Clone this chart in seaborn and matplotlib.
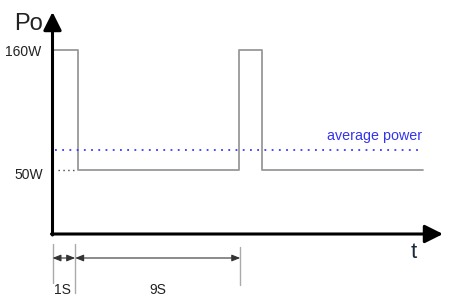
import matplotlib
matplotlib.use("Agg")
import matplotlib.pyplot as plt
import seaborn as sns
import pandas as pd

# ---- data (schematic values) ----
edge_times = [0, 1, 7.4, 8.3, 14.7]          # time of each level change
edge_power = [160, 50, 160, 50, 50]          # power level after each change (W)
avg_power = 68                               # average power level (drawn level)
avg_span = [0.1, 14.6]
level_labels = ["160W", "50W"]
level_values = [160, 50]
dim_marks = [0.0, 0.9, 7.45]
dim_labels = ["1S", "9S"]

sns.set_theme(style="white")
plt.rcParams['font.family'] = ['Liberation Sans', 'DejaVu Sans']

W, H = 451, 297
fig = plt.figure(figsize=(W / 100, H / 100), dpi=100)
ax = fig.add_axes([0, 0, 1, 1])
ax.set_axis_off()

# pixel mapping: t=0 -> x=52.5, 25.2 px per unit; P=0 -> y=224.5, 1.091 px per W
x0, sx = 52.5, 25.2
y0, sy = 224.5, 1.091
def tx(px):
    return (px - x0) / sx
def py(px):
    return (y0 - px) / sy
ax.set_xlim(tx(0), tx(W))
ax.set_ylim(py(H), py(0))

df = pd.DataFrame({"t": edge_times, "P": edge_power})
sns.lineplot(data=df, x="t", y="P", ax=ax, drawstyle="steps-post",
             color="#999999", lw=1.3, estimator=None, sort=False)

# average power line
ax.plot(avg_span, [avg_power, avg_power], color="#3a3aff", lw=1.3,
        linestyle=(0, (1, 3.0)))
ax.text(tx(422), avg_power + (150 - 136) / sy, "average power", color="#3333ee",
        fontsize=10.3, ha="right", va="center")

# 50W dotted guide
ax.plot([tx(58), tx(77)], [50, 50], color="#444444", lw=1.0,
        linestyle=(0, (1, 2.5)))

# axes arrows
arrow_kw = dict(arrowstyle="-|>,head_length=1.1,head_width=0.55",
                color="black", lw=2.2, shrinkA=0, shrinkB=0, mutation_scale=10)
ax.annotate("", xy=(0, py(12)), xytext=(0, py(235)), arrowprops=arrow_kw)
ax.annotate("", xy=(tx(443), py(234)), xytext=(tx(51.5), py(234)), arrowprops=arrow_kw)

# axis labels
ax.text(tx(28), py(24), "Po", fontsize=17, ha="center", va="center", color="#222222")
ax.text(tx(414), py(252), "t", fontsize=16, ha="center", va="center", color="#1a2a3a")
for lab, val, xr, dy in zip(level_labels, level_values, [41, 43], [2, 5]):
    ax.text(tx(xr), val - dy / sy, lab, fontsize=10, ha="right", va="center",
            color="#222222")

# dimension lines
tops = [244, 244, 247]
bots = [283, 293, 285]
for t, a, b in zip(dim_marks, tops, bots):
    ax.plot([t, t], [py(a), py(b)], color="#aaaaaa", lw=1.0)
dim_kw = dict(arrowstyle="<|-|>,head_length=0.5,head_width=0.2",
              color="#333333", lw=0.8, shrinkA=0, shrinkB=0, mutation_scale=10)
for i, lab in enumerate(dim_labels):
    a, b = dim_marks[i], dim_marks[i + 1]
    ax.annotate("", xy=(b, py(258)), xytext=(a, py(258)), arrowprops=dim_kw)
    ax.text((a + b) / 2 if i else tx(62), py(290), lab, fontsize=10,
            ha="center", va="center", color="#222222")

fig.savefig("out.png", dpi=100)
